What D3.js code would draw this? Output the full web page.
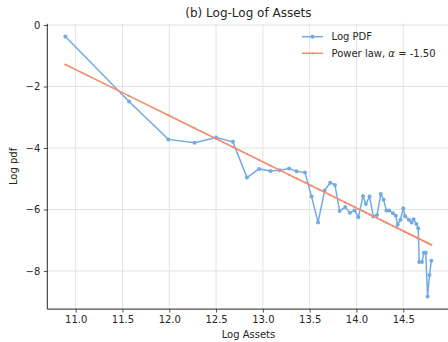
<!DOCTYPE html>
<html>
<head>
<meta charset="utf-8">
<script src="https://cdn.jsdelivr.net/npm/d3@7/dist/d3.min.js"></script>
<style>
  html, body { margin: 0; padding: 0; background: #fff; }
  svg { display: block; font-family: "DejaVu Sans", sans-serif; }
</style>
</head>
<body>
<svg id="chart" width="448" height="342"></svg>
<script>
// Log of asset values (x) and log of the empirical density (y)
const logAssets = [
  10.89, 11.57, 11.99, 12.27, 12.50, 12.68, 12.83, 12.96, 13.08, 13.18,
  13.28, 13.36, 13.45, 13.52, 13.59, 13.66, 13.72, 13.77, 13.82, 13.88,
  13.93, 13.98, 14.02, 14.07, 14.10, 14.14, 14.18, 14.22, 14.26, 14.29,
  14.32, 14.35, 14.39, 14.42, 14.44, 14.47, 14.50, 14.52, 14.56, 14.59,
  14.61, 14.64, 14.66, 14.67, 14.70, 14.72, 14.74, 14.76, 14.78, 14.80
];
const logPdf = [
  -0.37, -2.49, -3.72, -3.83, -3.66, -3.80, -4.96, -4.68, -4.75, -4.72,
  -4.67, -4.76, -4.80, -5.58, -6.42, -5.38, -5.13, -5.20, -6.05, -5.92,
  -6.11, -6.03, -6.25, -5.57, -5.82, -5.58, -6.23, -6.18, -5.50, -5.68,
  -6.03, -6.03, -6.12, -6.20, -6.50, -6.33, -5.96, -6.22, -6.33, -6.42,
  -6.32, -6.47, -6.61, -7.71, -7.71, -7.41, -7.41, -8.83, -8.13, -7.67
];
// Fitted power law in log-log space: y = intercept + alpha * x
const alpha = -1.50;
const intercept = 15.05;
const fitValues = logAssets.map(x => intercept + alpha * x);

const xTicks = [11.0, 11.5, 12.0, 12.5, 13.0, 13.5, 14.0, 14.5];
const yTicks = [0, -2, -4, -6, -8];

const svg = d3.select("#chart");
const pLeft = 47.3, pRight = 449.6, pTop = 23.8, pBottom = 309.1;

const x = d3.scaleLinear().domain([10.697, 14.995]).range([pLeft, pRight]);
const y = d3.scaleLinear().domain([0.04, -9.24]).range([pTop, pBottom]);

const blue = "#74aae2";
const orange = "#f18c6c";

// grid
const grid = svg.append("g");
grid.selectAll("line.gx").data(xTicks).join("line")
  .attr("x1", d => x(d)).attr("x2", d => x(d))
  .attr("y1", pTop).attr("y2", pBottom)
  .attr("stroke", "#e3e3e3").attr("stroke-width", 1);
grid.selectAll("line.gy").data(yTicks).join("line")
  .attr("y1", d => y(d)).attr("y2", d => y(d))
  .attr("x1", pLeft).attr("x2", pRight)
  .attr("stroke", "#e3e3e3").attr("stroke-width", 1);

// axes
const fmtX = d3.format(".1f");
const fmtY = d => (d < 0 ? "\u2212" + Math.abs(d) : String(d));

const xAxis = svg.append("g").attr("transform", `translate(0,${pBottom})`)
  .call(d3.axisBottom(x).tickValues(xTicks).tickFormat(fmtX).tickSize(3.5).tickPadding(3.5));
const yAxis = svg.append("g").attr("transform", `translate(${pLeft},0)`)
  .call(d3.axisLeft(y).tickValues(yTicks).tickFormat(fmtY).tickSize(3.5).tickPadding(3.5));
[xAxis, yAxis].forEach(a => {
  a.select(".domain").remove();
  a.selectAll("text").attr("font-size", 10).attr("fill", "#262626")
    .attr("font-family", "DejaVu Sans, sans-serif");
  a.selectAll("line").attr("stroke", "#262626").attr("stroke-width", 0.8);
});
// left and bottom spines
svg.append("line").attr("x1", pLeft).attr("x2", pLeft).attr("y1", pTop).attr("y2", pBottom)
  .attr("stroke", "#262626").attr("stroke-width", 1);
svg.append("line").attr("x1", pLeft).attr("x2", pRight).attr("y1", pBottom).attr("y2", pBottom)
  .attr("stroke", "#262626").attr("stroke-width", 1);

const line = d3.line().x(d => x(d[0])).y(d => y(d[1]));

// empirical log pdf
const pdfPts = logAssets.map((v, i) => [v, logPdf[i]]);
svg.append("path").datum(pdfPts).attr("d", line)
  .attr("fill", "none").attr("stroke", blue).attr("stroke-width", 1.5);
svg.append("g").selectAll("circle").data(pdfPts).join("circle")
  .attr("cx", d => x(d[0])).attr("cy", d => y(d[1])).attr("r", 2).attr("fill", blue);

// power-law fit
const fitPts = logAssets.map((v, i) => [v, fitValues[i]]);
svg.append("path").datum(fitPts).attr("d", line)
  .attr("fill", "none").attr("stroke", orange).attr("stroke-width", 1.6);
svg.append("g").selectAll("circle").data(fitPts).join("circle")
  .attr("cx", d => x(d[0])).attr("cy", d => y(d[1])).attr("r", 1.1).attr("fill", orange);

// title and labels
svg.append("text").attr("x", (pLeft + pRight) / 2).attr("y", 17)
  .attr("text-anchor", "middle").attr("font-size", 12).attr("fill", "#262626")
  .text("(b) Log-Log of Assets");
svg.append("text").attr("x", (pLeft + pRight) / 2).attr("y", 338)
  .attr("text-anchor", "middle").attr("font-size", 10).attr("fill", "#262626")
  .text("Log Assets");
svg.append("text").attr("transform", `translate(17,${(pTop + pBottom) / 2}) rotate(-90)`)
  .attr("text-anchor", "middle").attr("font-size", 10).attr("fill", "#262626")
  .text("Log pdf");

// legend
const legend = svg.append("g");
const rows = [
  { color: blue, r: 2, y: 36.7 },
  { color: orange, r: 1.1, y: 53.3 }
];
rows.forEach(rw => {
  legend.append("line").attr("x1", 302).attr("x2", 323).attr("y1", rw.y).attr("y2", rw.y)
    .attr("stroke", rw.color).attr("stroke-width", 1.5);
  legend.append("circle").attr("cx", 312.5).attr("cy", rw.y).attr("r", rw.r).attr("fill", rw.color);
});
legend.append("text").attr("x", 331.5).attr("y", 40.3).attr("font-size", 10).attr("fill", "#262626")
  .text("Log PDF");
const t2 = legend.append("text").attr("x", 331.5).attr("y", 56.9).attr("font-size", 10).attr("fill", "#262626");
t2.append("tspan").text("Power law, ");
t2.append("tspan").attr("font-style", "italic").text("\u03b1");
t2.append("tspan").text(" = " + alpha.toFixed(2));
</script>
</body>
</html>
